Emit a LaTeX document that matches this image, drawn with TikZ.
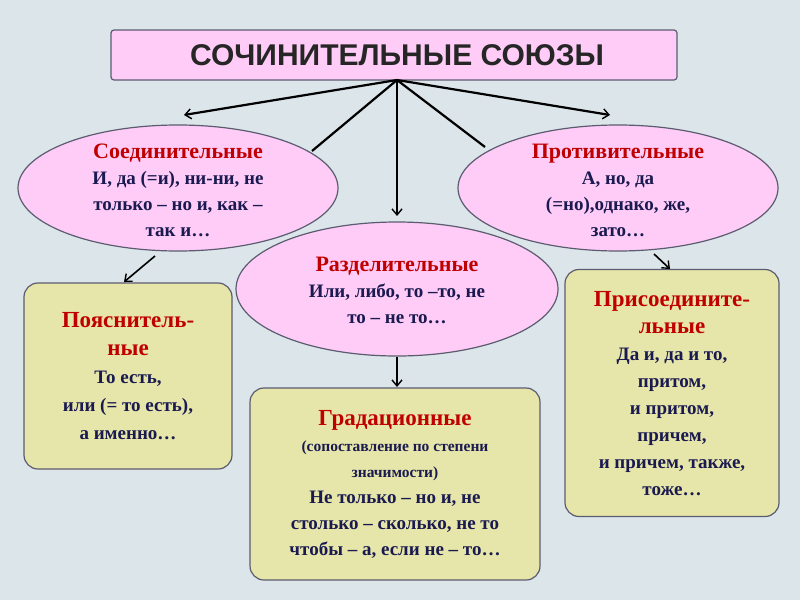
\documentclass[tikz,border=0pt]{standalone}
\usepackage{fontspec}
\setmainfont{Liberation Serif}
\newfontfamily\titlefont{Liberation Sans}
\usetikzlibrary{shapes.geometric,arrows.meta}
\definecolor{bgc}{HTML}{DCE5E9}
\definecolor{pinkf}{HTML}{FFCCF8}
\definecolor{boxf}{HTML}{E6E6AA}
\definecolor{edgec}{HTML}{5C5C70}
\definecolor{headc}{HTML}{C00000}
\definecolor{bodyc}{HTML}{1A1A50}
\tikzset{
 ell/.style={ellipse,draw=edgec,line width=1.2pt,fill=pinkf,inner sep=0pt},
 rbox/.style={draw=edgec,line width=1.2pt,fill=boxf,rounded corners=14pt},
 txt/.style={align=center,font=\bfseries\fontsize{19}{26}\selectfont,text=bodyc},
 con/.style={line width=2.2pt,black},
 arr/.style={con,-{Straight Barb[length=6pt,width=10pt,line width=1.4pt]}}
}
\newcommand{\hd}[1]{{\color{headc}\fontsize{22}{28}\selectfont #1}}
\newcommand{\hdb}[1]{{\color{headc}\fontsize{23}{29}\selectfont #1}}
\newcommand{\sm}[1]{{\fontsize{15.5}{22}\selectfont #1}}
\begin{document}
\begin{tikzpicture}[x=1pt,y=-1pt]
\fill[bgc] (0,0) rectangle (800,600);
\useasboundingbox (0,0) rectangle (800,600);
\node[draw=edgec,line width=1.2pt,fill=pinkf,rounded corners=3pt,minimum width=566pt,minimum height=50pt] (title) at (394,55) {};
\node[font=\titlefont\bfseries\fontsize{30}{34}\selectfont,text=black!85] at (397,55) {СОЧИНИТЕЛЬНЫЕ СОЮЗЫ};
\coordinate (top) at (397,80);
\node[ell,minimum width=320pt,minimum height=126pt] (left) at (178,188) {};
\node[ell,minimum width=320pt,minimum height=126pt] (right) at (618,188) {};
\node[ell,minimum width=322pt,minimum height=134pt] (mid) at (397,289) {};
\node[rbox,minimum width=208pt,minimum height=186pt] (lbox) at (128,376) {};
\node[rbox,minimum width=290pt,minimum height=192pt] (mbox) at (395,484) {};
\node[rbox,minimum width=214pt,minimum height=247pt] (rbx) at (672,393) {};
\node[txt] at (178,190) {\hd{Соединительные}\\И, да (=и), ни-ни, не\\только -- но и, как --\\так и…};
\node[txt] at (618,190) {\hd{Противительные}\\А, но, да\\(=но),однако, же,\\зато…};
\node[txt] at (397,290) {\hd{Разделительные}\\Или, либо, то --то, не\\то -- не то…};
\node[txt,font=\bfseries\fontsize{19}{28}\selectfont] at (128,376) {\hdb{Пояснитель-}\\\hdb{ные}\\То есть,\\или (= то есть),\\а именно…};
\node[txt,font=\bfseries\fontsize{19}{26}\selectfont] at (395,484) {\hdb{Градационные}\\\sm{(сопоставление по степени}\\\sm{значимости)}\\Не только -- но и, не\\столько -- сколько, не то\\чтобы -- а, если не -- то…};
\node[txt,font=\bfseries\fontsize{19}{27}\selectfont] at (672,394) {\hdb{Присоедините-}\\\hdb{льные}\\Да и, да и то,\\притом,\\ и притом,\\причем,\\и причем, также,\\тоже…};
\coordinate (lt) at (184,115);
\coordinate (rt) at (610,115);
\coordinate (ml) at (312,151);
\coordinate (mr) at (485,147);
\coordinate (mt) at (397,216);
\coordinate (ls) at (155,256);
\coordinate (lb) at (124,282);
\coordinate (rs) at (654,254);
\coordinate (rb) at (670,269);
\coordinate (ms) at (397,357);
\coordinate (mb) at (397,387);
\draw[arr] (top) -- (lt);
\draw[arr] (top) -- (rt);
\draw[con] (top) -- (ml);
\draw[con] (top) -- (mr);
\draw[arr] (top) -- (mt);
\draw[arr,line width=1.6pt] (ls) -- (lb);
\draw[arr,line width=1.6pt] (ms) -- (mb);
\draw[arr,line width=1.6pt] (rs) -- (rb);
\end{tikzpicture}
\end{document}
